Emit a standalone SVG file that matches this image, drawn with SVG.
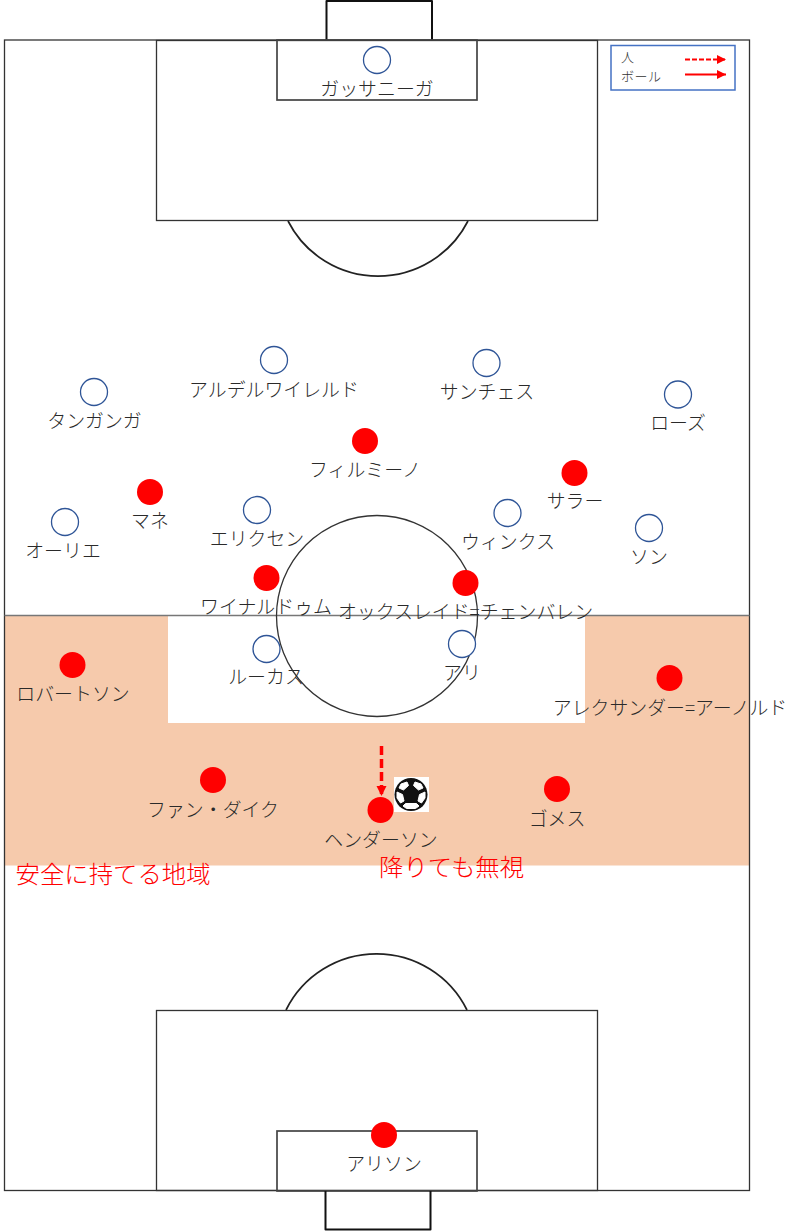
<svg xmlns="http://www.w3.org/2000/svg" width="800" height="1232" viewBox="0 0 800 1232">
<style>
.l{fill:none;stroke:#333;stroke-width:1.300}
.a{fill:none;stroke:#222;stroke-width:1.700}
.b{fill:none;stroke:#444;stroke-width:1.700}
.g{fill:none;stroke:#111;stroke-width:2;stroke-linejoin:round}
.h{fill:#fff;stroke:#2f5597;stroke-width:1.300}
.r{fill:#f00}
text{font-family:"Noto Sans CJK JP","Liberation Sans",sans-serif;font-size:18.900px;font-weight:300;fill:#2a2a2a;text-anchor:middle}
.red{fill:#f00;font-size:24.400px;text-anchor:start}
.lg{font-size:13px;letter-spacing:0.500px;text-anchor:start;fill:#333}
</style>
<defs>
<marker id="a" markerUnits="userSpaceOnUse" markerWidth="11" markerHeight="10" refX="9" refY="4.500" orient="auto"><path d="M0 0L9 4.500L0 9Z" fill="#f00"/></marker>
<marker id="c" markerUnits="userSpaceOnUse" markerWidth="11" markerHeight="11" refX="10" refY="5" orient="auto"><path d="M0 0L10 5L0 10Z" fill="#f00"/></marker>
</defs>
<rect width="800" height="1232" fill="#fff"/>
<g id="pitch">
<path d="M5 615.500H749V865.500H5Z" fill="#f6caac"/>
<rect x="168" y="616" width="417" height="107" fill="#fff"/>
<rect x="4.500" y="40" width="745" height="1150.500" class="l"/>
<path d="M4.500 615.500H749.500" stroke="#777" stroke-width="1.300" fill="none"/>
<path class="g" d="M326.500 40V1H432V40"/>
<rect class="l" x="156.500" y="40.500" width="441" height="180"/>
<rect class="b" x="277" y="40" width="200" height="60"/>
<path class="a" d="M288 221A101 101 0 0 0 468 221"/>
<circle class="l" cx="377" cy="616" r="100.500"/>
<rect class="l" x="156.500" y="1010.500" width="441" height="180"/>
<rect class="b" x="277" y="1131" width="200" height="60"/>
<path class="a" d="M286 1010A101 101 0 0 1 467 1010"/>
<path class="g" d="M325.500 1191V1229.500H430.500V1191"/>
</g>
<g id="legend">
<rect x="611" y="45.500" width="124" height="44.500" fill="#fff" stroke="#4472c4" stroke-width="1.500"/>
<text class="lg" x="621" y="62">人</text>
<text class="lg" x="621" y="81">ボール</text>
</g>
<g id="connectors" fill="none" stroke="#f00">
<path d="M685 59.500H726" stroke-width="2" stroke-dasharray="5 2" marker-end="url(#a)"/>
<path d="M685 74.500H726" stroke-width="2" marker-end="url(#a)"/>
<path d="M381.500 746V796" stroke-width="3.500" stroke-dasharray="9 4" marker-end="url(#c)"/>
</g>
<g id="ball">
<rect x="394" y="777" width="35" height="35" fill="#fff"/>
<circle cx="411" cy="794.500" r="16.500" fill="#111"/>
<g fill="#fff" stroke="#fff" stroke-width="1" stroke-linejoin="round">
<path d="M401 784L407 782L408.500 785.500L403.500 790L399 788Z"/>
<path d="M415 782L421 784L423 788L418.500 790L413.500 785.500Z"/>
<path d="M425 792L425 798L421.500 803L418 801L419.500 794.500Z"/>
<path d="M397 792L397 798L400.500 803L404 801L402.500 794.500Z"/>
<path d="M405.500 803.500H416.500L419 806L415.500 808.500H406.500L403 806Z"/>
</g>
</g>
<g id="gk-blue"><circle class="h" cx="377" cy="60" r="13.500"/><text x="377" y="96">ガッサニーガ</text></g>
<g id="aldr"><circle class="h" cx="274" cy="360" r="13.500"/><text x="274" y="397">アルデルワイレルド</text></g>
<g id="sanchez"><circle class="h" cx="486.500" cy="363" r="13.500"/><text x="487" y="399">サンチェス</text></g>
<g id="tanganga"><circle class="h" cx="94" cy="392" r="13.500"/><text x="94.500" y="428">タンガンガ</text></g>
<g id="rose"><circle class="h" cx="678" cy="394.500" r="13.500"/><text x="678" y="430">ローズ</text></g>
<g id="eriksen"><circle class="h" cx="257" cy="510" r="13.500"/><text x="257" y="546">エリクセン</text></g>
<g id="winks"><circle class="h" cx="507.500" cy="513" r="13.500"/><text x="508" y="549">ウィンクス</text></g>
<g id="aurier"><circle class="h" cx="65" cy="522" r="13.500"/><text x="63" y="558">オーリエ</text></g>
<g id="son"><circle class="h" cx="649" cy="528" r="13.500"/><text x="649" y="564">ソン</text></g>
<g id="lucas"><circle class="h" cx="266.500" cy="649" r="13.500"/><text x="266" y="684">ルーカス</text></g>
<g id="alli"><circle class="h" cx="462" cy="644" r="13.500"/><text x="462" y="680">アリ</text></g>
<g id="firmino"><circle class="r" cx="365" cy="441" r="13"/><text x="365" y="477">フィルミーノ</text></g>
<g id="salah"><circle class="r" cx="574.500" cy="473" r="13"/><text x="575" y="508">サラー</text></g>
<g id="mane"><circle class="r" cx="150" cy="492" r="13"/><text x="150" y="528">マネ</text></g>
<g id="wijnaldum"><circle class="r" cx="266.500" cy="578" r="13"/><text x="266" y="614">ワイナルドゥム</text></g>
<g id="ox"><circle class="r" cx="465.500" cy="583" r="13"/><text x="465.500" y="619">オックスレイド=チェンバレン</text></g>
<g id="robertson"><circle class="r" cx="72.500" cy="665" r="13"/><text x="73" y="701">ロバートソン</text></g>
<g id="taa"><circle class="r" cx="669.500" cy="678" r="13"/><text x="670" y="715">アレクサンダー=アーノルド</text></g>
<g id="vvd"><circle class="r" cx="213" cy="780" r="13"/><text x="213" y="817">ファン・ダイク</text></g>
<g id="gomez"><circle class="r" cx="557" cy="789" r="13"/><text x="557" y="826">ゴメス</text></g>
<g id="henderson"><circle class="r" cx="380.500" cy="810" r="13"/><text x="381" y="847">ヘンダーソン</text></g>
<g id="alisson"><circle class="r" cx="384" cy="1135" r="13"/><text x="384" y="1171">アリソン</text></g>
<text class="red" x="15.500" y="883">安全に持てる地域</text>
<text class="red" x="379" y="876">降りても無視</text>
</svg>
